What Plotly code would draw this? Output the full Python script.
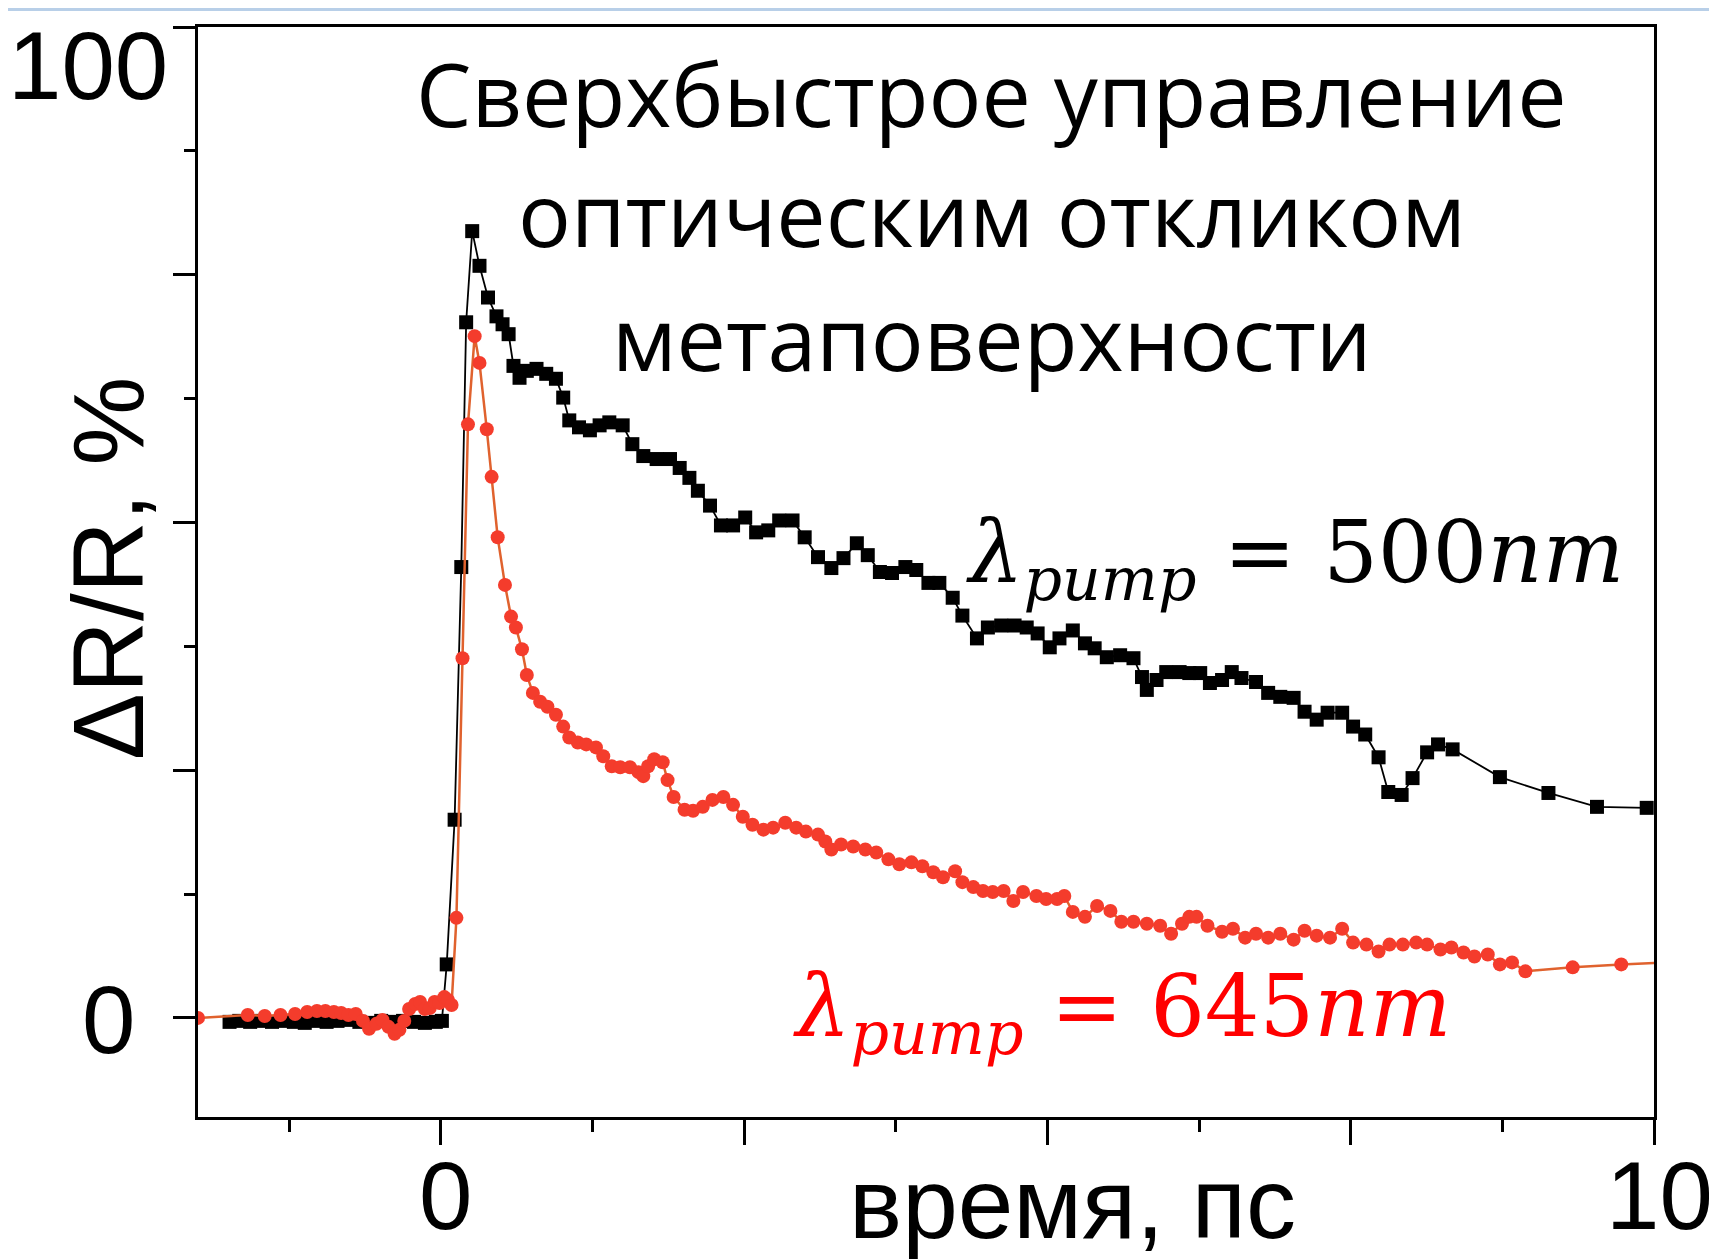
import plotly.graph_objects as go

# ---- data ----
black_points = [
    (-1.74, -0.4), (-1.66, -0.3), (-1.57, -0.4), (-1.48, -0.3), (-1.39, -0.4),
    (-1.30, -0.3), (-1.21, -0.4), (-1.12, -0.5), (-1.03, -0.3), (-0.94, -0.4),
    (-0.85, -0.3), (-0.76, -0.2), (-0.67, -0.4), (-0.58, -0.5), (-0.49, -0.3),
    (-0.40, -0.4), (-0.31, -0.3), (-0.22, -0.4), (-0.13, -0.5), (-0.04, -0.4),
    (0.01, -0.3), (0.05, 5.4), (0.115, 20.0), (0.17, 45.5), (0.21, 70.2),
    (0.26, 79.4), (0.32, 75.9), (0.39, 72.7), (0.46, 70.8), (0.51, 70.0),
    (0.56, 69.0), (0.60, 65.8), (0.65, 64.6), (0.71, 65.3), (0.79, 65.5),
    (0.87, 65.0), (0.95, 64.5), (1.01, 62.6), (1.06, 60.3), (1.14, 59.6),
    (1.23, 59.3), (1.31, 59.8), (1.39, 60.1), (1.50, 59.8), (1.58, 57.9),
    (1.67, 56.7), (1.78, 56.4), (1.89, 56.4), (1.97, 55.5), (2.05, 54.5),
    (2.12, 53.2), (2.22, 51.7), (2.31, 49.7), (2.41, 49.7), (2.51, 50.5),
    (2.60, 49.0), (2.70, 49.2), (2.79, 50.2), (2.90, 50.2), (3.00, 48.5),
    (3.11, 46.5), (3.22, 45.4), (3.32, 46.4), (3.43, 47.9), (3.52, 46.7),
    (3.62, 45.0), (3.72, 44.9), (3.83, 45.5), (3.92, 45.2), (4.02, 43.9),
    (4.11, 43.9), (4.22, 42.4), (4.30, 40.6), (4.42, 38.3), (4.51, 39.4),
    (4.62, 39.6), (4.73, 39.6), (4.83, 39.4), (4.92, 38.8), (5.02, 37.4),
    (5.10, 38.3), (5.21, 39.1), (5.31, 37.8), (5.39, 37.3), (5.49, 36.4),
    (5.60, 36.6), (5.71, 36.3), (5.78, 34.4), (5.82, 33.1), (5.90, 34.1),
    (5.98, 34.9), (6.09, 34.9), (6.17, 34.8), (6.26, 34.8), (6.34, 33.8),
    (6.44, 34.1), (6.52, 34.9), (6.60, 34.3), (6.72, 33.9), (6.82, 32.8),
    (6.92, 32.4), (7.03, 32.3), (7.12, 30.9), (7.22, 30.1), (7.31, 30.8),
    (7.43, 30.8), (7.52, 29.4), (7.62, 28.6), (7.73, 26.3), (7.81, 22.8),
    (7.92, 22.5), (8.01, 24.2), (8.13, 26.8), (8.22, 27.6), (8.34, 27.1),
    (8.73, 24.3), (9.13, 22.7), (9.53, 21.3), (9.94, 21.2),
]

red_points = [
    (-2.00, 0.0), (-1.59, 0.3), (-1.45, 0.2), (-1.32, 0.3), (-1.20, 0.4),
    (-1.10, 0.6), (-1.02, 0.7), (-0.95, 0.7), (-0.88, 0.6), (-0.82, 0.5),
    (-0.76, 0.3), (-0.70, 0.4), (-0.64, -0.3), (-0.59, -1.1), (-0.53, -0.6),
    (-0.48, -0.2), (-0.43, -0.9), (-0.38, -1.6), (-0.34, -1.2), (-0.30, -0.3),
    (-0.26, 0.9), (-0.21, 1.4), (-0.17, 1.6), (-0.13, 0.9), (-0.09, 1.0),
    (-0.05, 1.6), (-0.01, 1.5), (0.03, 2.1), (0.06, 1.8), (0.09, 1.3),
    (0.13, 10.1), (0.18, 36.3), (0.225, 59.9), (0.28, 68.8), (0.32, 66.1),
    (0.38, 59.4), (0.42, 54.6), (0.47, 48.5), (0.53, 43.7), (0.58, 40.5),
    (0.62, 39.4), (0.67, 37.2), (0.71, 34.6), (0.76, 32.8), (0.82, 31.9),
    (0.88, 31.4), (0.95, 30.6), (1.01, 29.4), (1.06, 28.3), (1.13, 27.8),
    (1.20, 27.6), (1.28, 27.3), (1.34, 26.4), (1.41, 25.4), (1.48, 25.3),
    (1.56, 25.3), (1.63, 24.8), (1.67, 24.4), (1.71, 25.4), (1.76, 26.1),
    (1.83, 25.8), (1.87, 24.0), (1.92, 22.3), (2.01, 21.0), (2.08, 20.9),
    (2.16, 21.3), (2.24, 22.0), (2.33, 22.3), (2.41, 21.5), (2.49, 20.3),
    (2.57, 19.5), (2.66, 19.0), (2.74, 19.2), (2.84, 19.7), (2.93, 19.2),
    (3.01, 18.8), (3.11, 18.5), (3.17, 17.8), (3.22, 17.0), (3.30, 17.5),
    (3.40, 17.3), (3.50, 17.0), (3.59, 16.7), (3.69, 16.0), (3.78, 15.5),
    (3.88, 15.7), (3.97, 15.3), (4.06, 14.7), (4.14, 14.2), (4.24, 14.8),
    (4.30, 13.7), (4.39, 13.2), (4.47, 12.8), (4.55, 12.7), (4.64, 12.8),
    (4.72, 11.8), (4.80, 12.7), (4.91, 12.3), (4.99, 12.0), (5.08, 12.0),
    (5.14, 12.3), (5.21, 10.7), (5.31, 10.2), (5.41, 11.3), (5.52, 10.8),
    (5.61, 9.7), (5.71, 9.7), (5.82, 9.5), (5.93, 9.3), (6.02, 8.5),
    (6.11, 9.5), (6.17, 10.2), (6.23, 10.2), (6.32, 9.3), (6.44, 8.7),
    (6.53, 9.0), (6.63, 8.1), (6.72, 8.5), (6.82, 8.1), (6.92, 8.5),
    (7.03, 7.9), (7.12, 8.8), (7.22, 8.3), (7.33, 8.1), (7.43, 9.0),
    (7.52, 7.6), (7.63, 7.4), (7.73, 6.7), (7.82, 7.4), (7.93, 7.4),
    (8.04, 7.6), (8.13, 7.4), (8.24, 6.9), (8.33, 7.1), (8.43, 6.6),
    (8.52, 6.2), (8.63, 6.4), (8.73, 5.4), (8.83, 5.6), (8.94, 4.7),
    (9.33, 5.1), (9.73, 5.4), (10.12, 5.6),
]

black_x = [p[0] for p in black_points]
black_y = [p[1] for p in black_points]
red_x = [p[0] for p in red_points]
red_y = [p[1] for p in red_points]

x_major_ticks = [0, 2.5, 5, 7.5, 10]
x_label_values = [0, 10]
x_label_texts = ["0", "10"]
y_major_ticks = [0, 25, 50, 75, 100]
y_label_values = [0, 100]
y_label_texts = ["0", "100"]

title_lines = ["Сверхбыстрое управление", "оптическим откликом", "метаповерхности"]
label_500 = "<i>λ</i><sub><i>pump</i></sub> = 500<i>nm</i>"
label_645 = "<i>λ</i><sub><i>pump</i></sub> = 645<i>nm</i>"

SANS = "Liberation Sans, Arial, sans-serif"
SERIF = "DejaVu Serif, Liberation Serif, serif"

fig = go.Figure()
fig.add_trace(go.Scatter(
    x=black_x, y=black_y, mode="lines+markers",
    line=dict(color="black", width=1.8),
    marker=dict(symbol="square", size=14, color="black"),
    showlegend=False,
))
fig.add_trace(go.Scatter(
    x=red_x, y=red_y, mode="lines+markers",
    line=dict(color="#e0622e", width=2.5),
    marker=dict(symbol="circle", size=14, color="#f43c2c"),
    showlegend=False,
))

# page has an 8px body margin, so the figure is sized/offset to compensate
fig.update_layout(
    width=1709, height=1252,
    margin=dict(l=190, r=63, t=19, b=143, autoexpand=False),
    paper_bgcolor="white", plot_bgcolor="white",
    showlegend=False,
    xaxis=dict(
        range=[-2, 10], showgrid=False, zeroline=False, automargin=False,
        showline=True, linecolor="black", linewidth=3, mirror=True,
        ticks="outside", ticklen=25, tickwidth=3, tickcolor="black",
        tickmode="array", tickvals=x_major_ticks, showticklabels=False,
        minor=dict(tickmode="linear", tick0=-1.25, dtick=2.5,
                   ticks="outside", ticklen=12, tickwidth=3, tickcolor="black"),
    ),
    yaxis=dict(
        range=[-10, 100], showgrid=False, zeroline=False, automargin=False,
        showline=True, linecolor="black", linewidth=3, mirror=True,
        ticks="outside", ticklen=22, tickwidth=3, tickcolor="black",
        tickmode="array", tickvals=y_major_ticks, showticklabels=False,
        minor=dict(tickmode="linear", tick0=12.5, dtick=25,
                   ticks="outside", ticklen=11, tickwidth=3, tickcolor="black"),
    ),
)

annotations = []
# y tick labels
for val, txt, xs, ys in zip(y_label_values, y_label_texts, [-61, -28], [-2, -38]):
    annotations.append(dict(
        text=txt, xref="paper", yref="y", x=0, y=val, xanchor="right", yanchor="middle",
        xshift=xs, yshift=ys, showarrow=False,
        font=dict(family=SANS, size=96, color="black"),
    ))
# x tick labels
for val, txt, xs in zip(x_label_values, x_label_texts, [5, 5]):
    annotations.append(dict(
        text=txt, xref="x", yref="paper", x=val, y=0, xanchor="center", yanchor="middle",
        xshift=xs, yshift=-78, showarrow=False,
        font=dict(family=SANS, size=96, color="black"),
    ))
# axis titles
annotations.append(dict(
    text="ΔR/R, %", xref="paper", yref="y", x=0, y=45.4, xshift=-90,
    xanchor="center", yanchor="middle", textangle=-90, showarrow=False,
    font=dict(family=SANS, size=100, color="black"),
))
annotations.append(dict(
    text="время, пс", xref="x", yref="paper", x=5.21, y=0, yshift=-86,
    xanchor="center", yanchor="middle", showarrow=False,
    font=dict(family=SANS, size=100, color="black"),
))
# title block, one annotation per line
for line, ypos in zip(title_lines, [0.939, 0.829, 0.716]):
    annotations.append(dict(
        text=line, xref="paper", yref="paper", x=0.545, y=ypos,
        xanchor="center", yanchor="middle", showarrow=False,
        font=dict(family="Open Sans, Noto Sans, sans-serif", size=88, color="black"),
    ))
# series labels
annotations.append(dict(
    text=label_500, xref="x", yref="y", x=4.31, y=46.4,
    xanchor="left", yanchor="middle", showarrow=False,
    font=dict(family=SERIF, size=86, color="black"),
))
annotations.append(dict(
    text=label_645, xref="x", yref="y", x=2.89, y=0.6,
    xanchor="left", yanchor="middle", showarrow=False,
    font=dict(family=SERIF, size=86, color="#ff0000"),
))
fig.update_layout(annotations=annotations)

# faint slide border at the very top edge
fig.add_shape(type="line", xref="paper", yref="paper", x0=-0.14, x1=1.05,
              y0=1.0160, y1=1.0160, line=dict(color="#b8cfe8", width=3))

fig.write_html("out.html")
